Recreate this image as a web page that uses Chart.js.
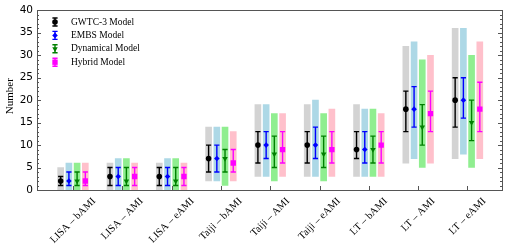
<!DOCTYPE html>
<html><head><meta charset="utf-8">
<script src="https://cdn.jsdelivr.net/npm/chart.js@4.4.1/dist/chart.umd.min.js"></script>
<style>html,body{margin:0;padding:0;background:#fff}#wrap{width:509px;height:251px;position:relative}</style>
</head><body><div id="wrap"><canvas id="c"></canvas></div>
<script>
const categories = ['LISA \u2013 bAMI','LISA \u2013 AMI','LISA \u2013 eAMI','Taiji \u2013 bAMI','Taiji \u2013 AMI','Taiji \u2013 eAMI','LT \u2013 bAMI','LT \u2013 AMI','LT \u2013 eAMI'];
const models = ['GWTC-3 Model','EMBS Model','Dynamical Model','Hybrid Model'];
const yTicks = [0,5,10,15,20,25,30,35,40];

const gwtcVal   = [2, 3, 3, 7, 10, 10, 9, 18, 20];
const gwtcErrLo = [1, 1, 1, 4, 6, 6, 7, 13, 14];
const gwtcErrHi = [3, 5, 5, 10, 13, 13, 13, 22, 25];
const gwtcBandLo = [0, 0, 0, 2, 3, 3, 3, 6, 7];
const gwtcBandHi = [5, 6, 6, 14, 19, 19, 19, 32, 36];

const embsVal   = [2, 3, 3, 7, 10, 10, 9, 18, 20];
const embsErrLo = [1, 1, 1, 4, 7, 7, 6, 14, 16];
const embsErrHi = [4, 5, 5, 10, 13, 14, 13, 23, 25];
const embsBandLo = [0, 0, 0, 2, 3, 3, 3, 7, 8];
const embsBandHi = [6, 7, 7, 14, 19, 20, 18, 33, 36];

const dynVal   = [2, 2, 2, 7, 8, 8, 9, 14, 15];
const dynErrLo = [1, 1, 1, 4, 5, 5, 6, 10, 11];
const dynErrHi = [4, 5, 5, 9, 12, 12, 12, 19, 20];
const dynBandLo = [0, 0, 0, 1, 2, 2, 3, 5, 5];
const dynBandHi = [6, 7, 7, 14, 17, 17, 18, 29, 30];

const hybVal   = [2, 3, 3, 6, 9, 9, 10, 17, 18];
const hybErrLo = [1, 1, 1, 4, 6, 6, 6, 13, 13];
const hybErrHi = [4, 5, 5, 9, 13, 13, 13, 22, 24];
const hybBandLo = [0, 0, 0, 2, 3, 3, 3, 6, 7];
const hybBandHi = [6, 6, 6, 13, 17, 18, 17, 30, 33];

const offsets = [-0.25, -0.083, 0.083, 0.25];
const bandColors = ['#d3d3d3','#add8e6','#90ee90','#ffc0cb'];
const lineColors = ['#000000','#0000ff','#008000','#ff00ff'];
const markers = [
  {pointStyle:'circle', radius:2.8, rotation:0},
  {pointStyle:'rectRot', radius:2.8, rotation:0},
  {pointStyle:'triangle', radius:3.2, rotation:180},
  {pointStyle:'rect', radius:3.8, rotation:0}
];
const series = [
  {val:gwtcVal, lo:gwtcErrLo, hi:gwtcErrHi, blo:gwtcBandLo, bhi:gwtcBandHi},
  {val:embsVal, lo:embsErrLo, hi:embsErrHi, blo:embsBandLo, bhi:embsBandHi},
  {val:dynVal, lo:dynErrLo, hi:dynErrHi, blo:dynBandLo, bhi:dynBandHi},
  {val:hybVal, lo:hybErrLo, hi:hybErrHi, blo:hybBandLo, bhi:hybBandHi}
];

const datasets = [];
series.forEach((s, k) => {
  datasets.push({
    type:'bar', label: models[k] + ' range', grouped:false,
    data: categories.map((c,i)=>({x:i+offsets[k], y:[s.blo[i], s.bhi[i]]})),
    backgroundColor: bandColors[k], borderWidth:0, barThickness:6, maxBarThickness:6, order:2
  });
});
series.forEach((s, k) => {
  datasets.push({
    type:'scatter', label: models[k],
    data: categories.map((c,i)=>({x:i+offsets[k], y:s.val[i]})),
    pointStyle: markers[k].pointStyle, pointRadius: markers[k].radius, pointRotation: markers[k].rotation,
    backgroundColor: lineColors[k], borderColor: lineColors[k], borderWidth:0, order:1
  });
});

function drawErr(ctx, px, y1, y2, color){
  ctx.strokeStyle = color; ctx.lineWidth = 1.4;
  ctx.beginPath();
  ctx.moveTo(px, y1); ctx.lineTo(px, y2);
  ctx.moveTo(px-2.6, y1); ctx.lineTo(px+2.6, y1);
  ctx.moveTo(px-2.6, y2); ctx.lineTo(px+2.6, y2);
  ctx.stroke();
}

const errPlugin = {
  id:'errbars',
  afterDatasetDraw(chart, args){
    const k = args.index;
    if (k > 3) return;
    const s = series[k];
    const {ctx} = chart; const x = chart.scales.x, y = chart.scales.y;
    ctx.save();
    s.lo.forEach((lo, i) => {
      drawErr(ctx, x.getPixelForValue(i+offsets[k]), y.getPixelForValue(lo), y.getPixelForValue(s.hi[i]), lineColors[k]);
    });
    ctx.restore();
  }
};

const framePlugin = {
  id:'frame',
  afterDraw(chart){
    const {ctx, chartArea:a} = chart; const x = chart.scales.x, y = chart.scales.y;
    ctx.save();
    ctx.strokeStyle = '#555'; ctx.lineWidth = 1;
    ctx.strokeRect(Math.round(a.left)+0.5, Math.round(a.top)+0.5, Math.round(a.right-a.left), Math.round(a.bottom-a.top));
    ctx.beginPath();
    for (let v = 0; v <= 40; v++) {
      const py = Math.round(y.getPixelForValue(v)) + 0.5;
      const len = (v % 5 === 0) ? 4 : 2;
      ctx.moveTo(a.left, py); ctx.lineTo(a.left + len, py);
      ctx.moveTo(a.right, py); ctx.lineTo(a.right - len, py);
    }
    categories.forEach((c, i) => {
      const px = Math.round(x.getPixelForValue(i)) + 0.5;
      ctx.moveTo(px, a.bottom); ctx.lineTo(px, a.bottom - 4);
    });
    ctx.stroke();
    ctx.fillStyle = '#000';
    ctx.font = '10.5px "Liberation Serif"';
    ctx.textAlign = 'center'; ctx.textBaseline = 'middle';
    categories.forEach((c, i) => {
      const px = x.getPixelForValue(i);
      const L = ctx.measureText(c).width;
      const h = 10;
      const bh = (L + h) * Math.SQRT1_2;
      const cy = a.bottom + 6 + bh/2;
      ctx.save(); ctx.translate(px, cy); ctx.rotate(-Math.PI/4); ctx.fillText(c, 0, 0); ctx.restore();
    });
    ctx.save(); ctx.translate(10, (a.top + a.bottom)/2 - 4); ctx.rotate(-Math.PI/2);
    ctx.textAlign = 'center'; ctx.textBaseline = 'middle';
    ctx.font = '11px "Liberation Serif"'; ctx.fillText('Number', 0, 0); ctx.restore();
    models.forEach((m, k) => {
      const ly = 22 + k * 13.4, lx = 55;
      ctx.save();
      drawErr(ctx, lx, ly - 4, ly + 4, lineColors[k]);
      ctx.fillStyle = lineColors[k]; ctx.strokeStyle = lineColors[k];
      Chart.helpers.drawPoint(ctx, {pointStyle: markers[k].pointStyle, radius: markers[k].radius, rotation: markers[k].rotation, borderWidth:0}, lx, ly);
      ctx.restore();
      ctx.fillStyle = '#000'; ctx.font = '9.5px "Liberation Serif"'; ctx.textAlign = 'left'; ctx.textBaseline = 'middle';
      ctx.fillText(m, 71, ly);
    });
    ctx.restore();
  }
};

new Chart(document.getElementById('c'), {
  type:'bar',
  data:{datasets},
  options:{
    responsive:true, maintainAspectRatio:false, animation:false, devicePixelRatio:1,
    layout:{padding:{left:0, right:7, top:10, bottom:0}},
    plugins:{legend:{display:false}, tooltip:{enabled:false}},
    scales:{
      x:{type:'linear', min:-0.73, max:8.7, offset:false, grid:{display:false, drawTicks:false}, border:{display:false},
         ticks:{display:false}, afterFit(s){ s.height = 61; }},
      y:{type:'linear', min:0, max:40, grid:{display:false, drawTicks:false}, border:{display:false},
         afterBuildTicks(s){ s.ticks = yTicks.map(v=>({value:v})); },
         ticks:{padding:4, color:'#000', font:{family:'DejaVu Sans', size:10.5}},
         afterFit(s){ s.width = 37; }}
    }
  },
  plugins:[errPlugin, framePlugin]
});
</script></body></html>
